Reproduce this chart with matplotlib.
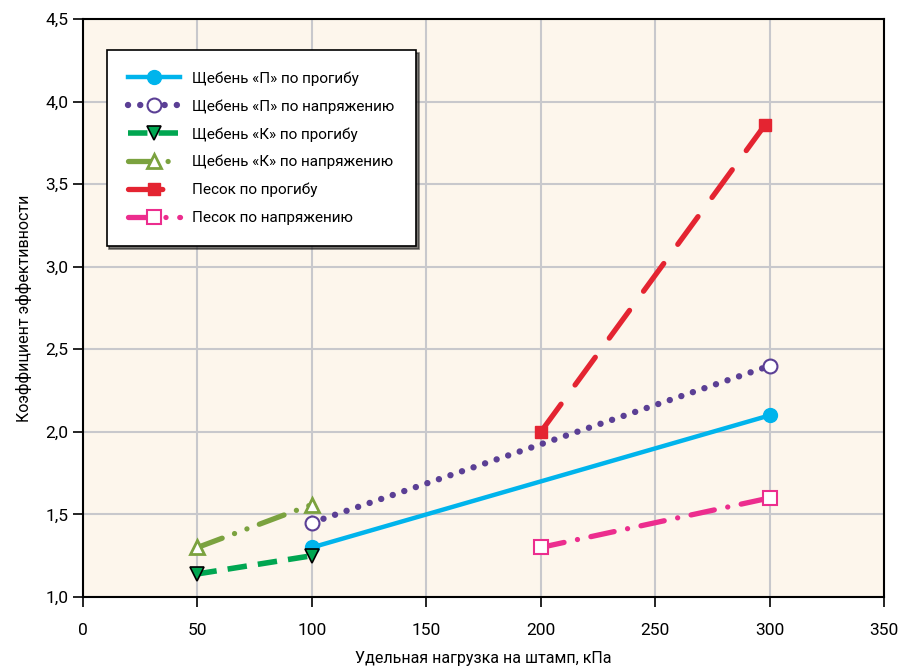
import numpy as np
import matplotlib
matplotlib.use('Agg')
import matplotlib.pyplot as plt

plt.rcParams['font.family'] = ['Roboto', 'DejaVu Sans']

# данные
p_prog_x = [100, 300]
p_prog_y = [1.30, 2.10]
p_napr_x = [100, 300]
p_napr_y = [1.45, 2.40]
k_prog_x = [50, 100]
k_prog_y = [1.14, 1.25]
k_napr_x = [50, 100]
k_napr_y = [1.30, 1.56]
pes_prog_x = [200, 298]
pes_prog_y = [2.00, 3.86]
pes_napr_x = [200, 300]
pes_napr_y = [1.30, 1.60]

fig = plt.figure(figsize=(9.05, 6.69), dpi=100)
ax = fig.add_axes([0.0917, 0.1076, 0.8853, 0.864])
ax.set_facecolor('#FDF6EC')

ax.plot(p_prog_x, p_prog_y, '-', color='#00B4EC', lw=3.2, marker='o', ms=10,
        label='Щебень «П» по прогибу', zorder=3)
ax.plot(p_napr_x, p_napr_y, color='#5B3F95', lw=4.6, ls=(0, (0.01, 1.9)),
        dash_capstyle='round', marker='o', ms=10, mfc='white', mew=1.5,
        label='Щебень «П» по напряжению', zorder=3)
ax.plot(k_prog_x, k_prog_y, color='#00A651', lw=4, ls=(0, (3.5, 2)),
        marker='v', ms=10, mec='black', mew=1.2, label='Щебень «К» по прогибу', zorder=3)
ax.plot(k_napr_x, k_napr_y, color='#7BA23F', lw=3.8, ls=(0, (5, 2.5, 0.01, 2.5, 0.01, 2.5)),
        dash_capstyle='round', marker='^', ms=10, mfc='white', mew=2,
        label='Щебень «К» по напряжению', zorder=3)
ax.plot(pes_prog_x, pes_prog_y, color='#E42431', lw=3.8, ls=(0, (6.5, 4.5)),
        dash_capstyle='round', marker='s', ms=9, label='Песок по прогибу', zorder=3)
ax.plot(pes_napr_x, pes_napr_y, color='#EC2D8E', lw=3.8, ls=(0, (4.5, 2.6, 0.01, 2.6)),
        dash_capstyle='round', marker='s', ms=10, mfc='white', mew=1.5,
        label='Песок по напряжению', zorder=3)

ax.set_xlim(0, 350)
ax.set_ylim(1.0, 4.5)
ax.set_xticks(np.arange(0, 351, 50))
ax.set_yticks(np.arange(1.0, 4.51, 0.5))
ax.set_yticklabels([f'{v:.1f}'.replace('.', ',') for v in np.arange(1.0, 4.51, 0.5)])
ax.grid(True, color='#C8C8CC', lw=1.5)
ax.set_axisbelow(True)
for s in ax.spines.values():
    s.set_color('black')
    s.set_linewidth(1.5)
ax.tick_params(axis='both', direction='out', length=7, width=1.2, labelsize=12.5)
ax.tick_params(axis='x', pad=12)
ax.set_xlabel('Удельная нагрузка на штамп, кПа', fontsize=11.5, labelpad=9)
ax.set_ylabel('Коэффициент эффективности', fontsize=11.5, labelpad=10)

leg = ax.legend(loc='upper left', bbox_to_anchor=(0.02, 0.96), fontsize=11,
                frameon=True, fancybox=False, shadow={'color': '#222222', 'alpha': 0.6},
                edgecolor='black', handlelength=3.4, borderpad=1.4, labelspacing=0.88,
                handletextpad=0.8)
leg.get_frame().set_linewidth(1.2)

fig.savefig('out.png', dpi=100)
